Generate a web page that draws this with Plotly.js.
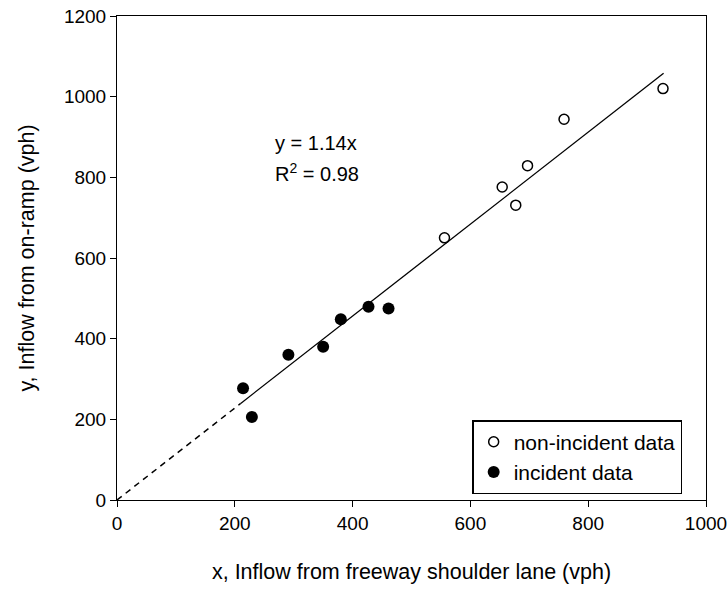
<!DOCTYPE html>
<html>
<head>
<meta charset="utf-8">
<script src="https://cdn.plot.ly/plotly-3.0.1.min.js"></script>
<style>html,body{margin:0;padding:0;background:#fff;}#chart{width:728px;height:592px;}</style>
</head>
<body>
<div id="chart"></div>
<script>
// Data
const nonIncidentX = [556, 654, 677, 697, 759, 927];
const nonIncidentY = [650, 776, 731, 829, 944, 1020];
const incidentX = [214, 229, 291, 350, 380, 427, 461];
const incidentY = [277, 206, 360, 380, 448, 479, 475];
const fitSlope = 1.14;
const fitDashedX = [0, 210];
const fitSolidX = [210, 928];
const xTicks = [0, 200, 400, 600, 800, 1000];
const yTicks = [0, 200, 400, 600, 800, 1000, 1200];
const legendNames = ['non-incident data', 'incident data'];

const FONT = 'Arial, "Liberation Sans", sans-serif';

const traces = [
  {x: fitDashedX, y: fitDashedX.map(v => v * fitSlope), mode: 'lines', line: {color: '#000', width: 1.5, dash: '6px,5px'}, showlegend: false, hoverinfo: 'skip'},
  {x: fitSolidX, y: fitSolidX.map(v => v * fitSlope), mode: 'lines', line: {color: '#000', width: 1.3}, showlegend: false, hoverinfo: 'skip'},
  {x: nonIncidentX, y: nonIncidentY, mode: 'markers', name: legendNames[0], marker: {symbol: 'circle-open', size: 10, color: '#000', line: {width: 1.5, color: '#000'}}},
  {x: incidentX, y: incidentY, mode: 'markers', name: legendNames[1], marker: {symbol: 'circle', size: 12, color: '#000'}}
];

const layout = {
  width: 728, height: 592,
  margin: {l: 117, r: 22, t: 16, b: 92},
  paper_bgcolor: '#fff', plot_bgcolor: '#fff',
  font: {family: FONT, size: 20, color: '#000'},
  showlegend: true,
  legend: {x: 0.603, y: 0.165, xanchor: 'left', yanchor: 'top', bordercolor: '#000', borderwidth: 1.5, bgcolor: '#fff', font: {family: FONT, size: 21}, tracegroupgap: 0, itemwidth: 30},
  xaxis: {
    range: [0, 1000], tickvals: xTicks, ticktext: xTicks.map(String),
    showgrid: false, zeroline: false, showline: true, linecolor: '#000', linewidth: 1, mirror: true,
    ticks: 'outside', ticklen: 6, tickcolor: '#000', tickfont: {size: 19},
    title: {text: 'x, Inflow from freeway shoulder lane (vph)', font: {size: 21.5}, standoff: 31}
  },
  yaxis: {
    range: [0, 1200], tickvals: yTicks, ticktext: yTicks.map(String),
    showgrid: false, zeroline: false, showline: true, linecolor: '#000', linewidth: 1, mirror: true,
    ticks: 'outside', ticklen: 6, tickcolor: '#000', tickfont: {size: 19},
    title: {text: 'y, Inflow from on-ramp (vph)', font: {size: 21.5}, standoff: 23}
  },
  annotations: [
    {xref: 'x', yref: 'y', x: 265, y: 885, xanchor: 'left', yanchor: 'middle', showarrow: false, text: 'y = 1.14x', font: {size: 20}},
    {xref: 'x', yref: 'y', x: 265, y: 811, xanchor: 'left', yanchor: 'middle', showarrow: false, text: 'R<sup>2</sup> = 0.98', font: {size: 20}}
  ]
};

Plotly.newPlot('chart', traces, layout, {displayModeBar: false, staticPlot: true});
</script>
</body>
</html>
